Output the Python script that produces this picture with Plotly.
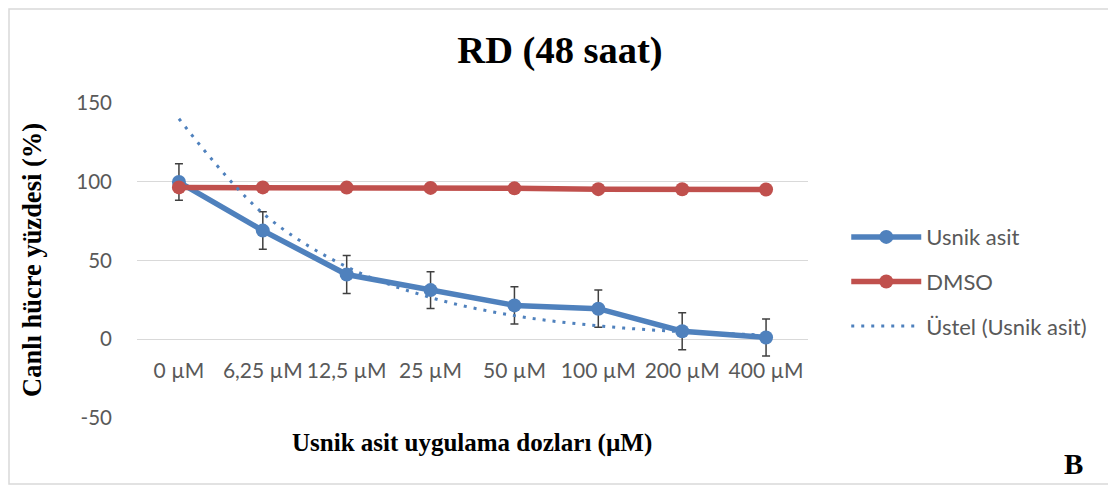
import plotly.graph_objects as go

categories = ["0 µM", "6,25 µM", "12,5 µM", "25 µM", "50 µM", "100 µM", "200 µM", "400 µM"]
usnik_values = [99.8, 69.0, 41.1, 31.2, 21.5, 19.4, 5.1, 1.1]
usnik_errors = [11.6, 11.9, 12.0, 11.7, 11.8, 11.8, 11.8, 11.8]
dmso_values = [96.4, 96.4, 96.3, 96.1, 95.8, 95.3, 95.2, 95.1]
trend_values = [140, 80, 46, 26.5, 15, 8.5, 4.8, 2.7]
y_ticks = [-50, 0, 50, 100, 150]
y_tick_labels = ["-50", "0", "50", "100", "150"]

BLUE = "#4F81BD"
RED = "#C0504D"
GRAY_TXT = "#595959"
GRID = "#D9D9D9"
SANS = "Lato, Carlito, Calibri, sans-serif"
SERIF = "Liberation Serif, Times New Roman, serif"

# page body has an 8px margin: figure origin sits at (8, 8) in the window
OFF = 8
W, H = 1116 - OFF, 487 - OFF
PL, PR, PT, PB = 137, 808, 103, 418  # plot area in window pixels


def px(X):
    return (X - PL) / (PR - PL)


def py(Y):
    return (PB - Y) / (PB - PT)


fig = go.Figure()
fig.add_trace(go.Scatter(
    x=categories, y=usnik_values, name="Usnik asit", mode="lines+markers",
    line=dict(color=BLUE, width=5.5), marker=dict(color=BLUE, size=14),
    error_y=dict(type="data", array=usnik_errors, visible=True,
                 color="#404040", thickness=1.5, width=4),
    legendgroup="a"))
fig.add_trace(go.Scatter(
    x=categories, y=dmso_values, name="DMSO", mode="lines+markers",
    line=dict(color=RED, width=5.5), marker=dict(color=RED, size=14),
    legendgroup="b"))
fig.add_trace(go.Scatter(
    x=categories, y=trend_values, name="Üstel (Usnik asit)", mode="lines",
    line=dict(color=BLUE, width=3, dash="3px,7px", shape="spline"),
    legendgroup="c"))

fig.update_layout(
    width=W, height=H,
    margin=dict(l=PL - OFF, r=W - (PR - OFF), t=PT - OFF, b=H - (PB - OFF)),
    paper_bgcolor="white", plot_bgcolor="white",
    title=dict(text="<b>RD (48 saat)</b>", x=(560 - OFF) / W, xanchor="center",
               y=1 - (50 - OFF) / H, yanchor="middle", yref="container",
               font=dict(family=SERIF, size=38.5, color="black")),
    xaxis=dict(type="category", range=[-0.5, 7.5], anchor="free", position=0.25,
               showgrid=False, showline=False, zeroline=False, ticks="",
               ticklabelstandoff=17,
               tickfont=dict(family=SANS, size=21, color=GRAY_TXT)),
    yaxis=dict(range=[-50, 150], tickvals=y_ticks, ticktext=y_tick_labels,
               showgrid=True, gridcolor=GRID,
               gridwidth=1, zeroline=False, showline=False, ticks="",
               ticklabelstandoff=24,
               tickfont=dict(family=SANS, size=20.5, color=GRAY_TXT)),
    legend=dict(x=1.057, xanchor="left", y=0.641, yanchor="top",
                font=dict(family=SANS, size=22, color=GRAY_TXT),
                itemwidth=70, tracegroupgap=13, bgcolor="rgba(0,0,0,0)"),
    showlegend=True,
)

fig.add_annotation(text="<b>Canlı hücre yüzdesi (%)</b>", xref="paper", yref="paper",
                   x=px(32), y=py(260), textangle=-90,
                   showarrow=False, xanchor="center", yanchor="middle",
                   font=dict(family=SERIF, size=26.5, color="black"))
fig.add_annotation(text="<b>Usnik asit uygulama dozları (µM)</b>", xref="paper", yref="paper",
                   x=px(472), y=py(443),
                   showarrow=False, xanchor="center", yanchor="middle",
                   font=dict(family=SERIF, size=25, color="black"))
fig.add_annotation(text="<b>B</b>", xref="paper", yref="paper",
                   x=px(1073), y=py(464),
                   showarrow=False, xanchor="center", yanchor="middle",
                   font=dict(family=SERIF, size=29, color="black"))

fig.add_shape(type="rect", xref="paper", yref="paper",
              x0=px(9), x1=px(1110), y0=py(484), y1=py(9),
              line=dict(color=GRID, width=1.5), fillcolor="rgba(0,0,0,0)", layer="below")

fig.write_html("out.html")
